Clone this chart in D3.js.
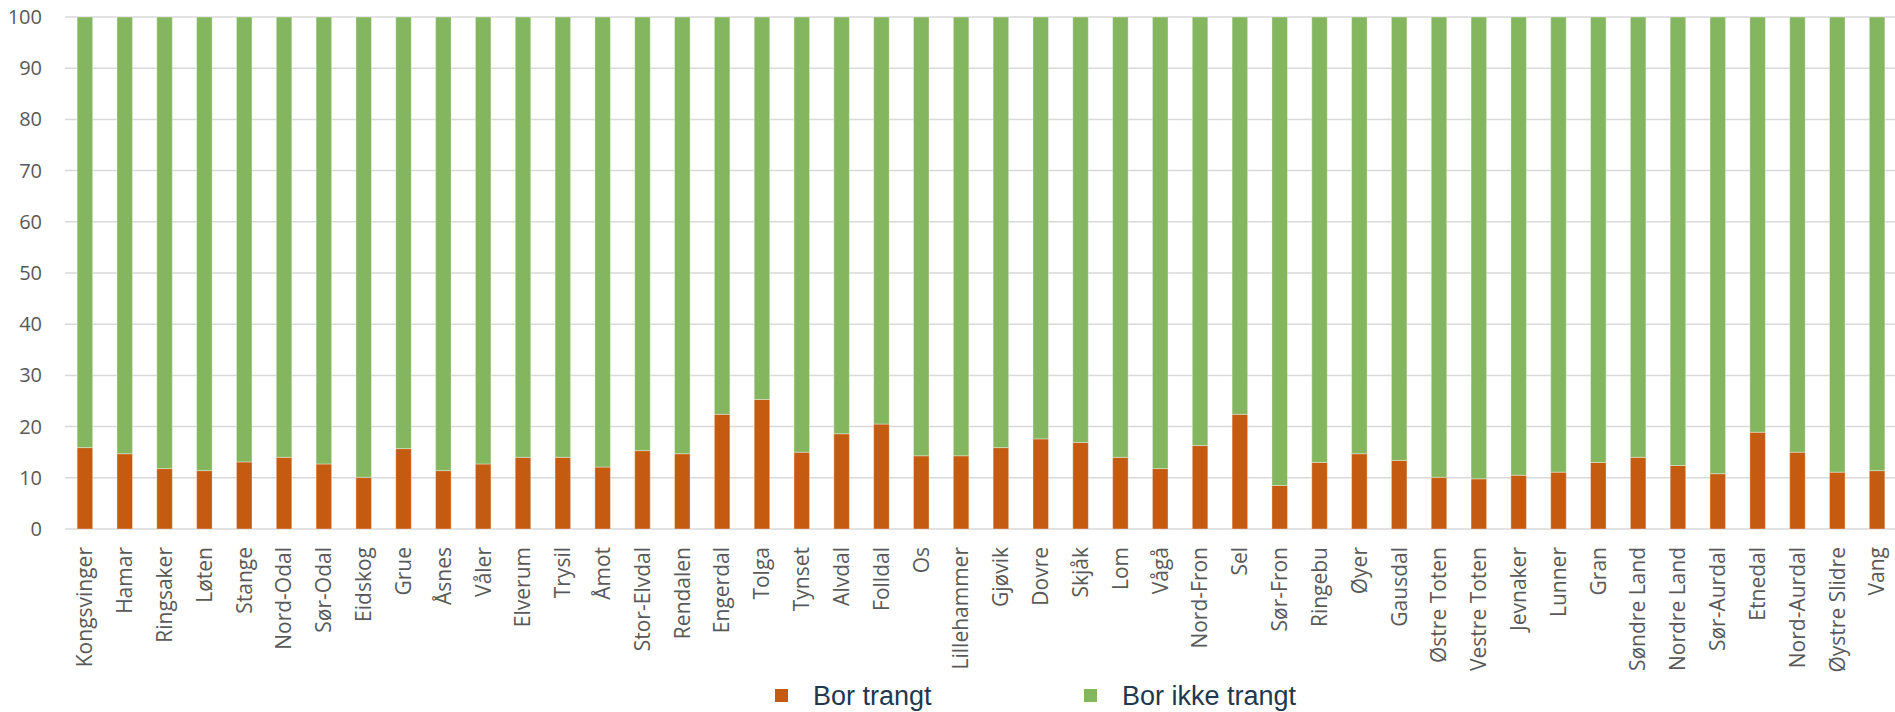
<!DOCTYPE html>
<html>
<head>
<meta charset="utf-8">
<script src="https://cdn.jsdelivr.net/npm/d3@7"></script>
<style>
  body { margin: 0; background: #fff; }
</style>
</head>
<body>
<div class="chart"></div>
<script>
  // Data
  let kommuner = ["Kongsvinger", "Hamar", "Ringsaker", "Løten", "Stange", "Nord-Odal", "Sør-Odal", "Eidskog",
    "Grue", "Åsnes", "Våler", "Elverum", "Trysil", "Åmot", "Stor-Elvdal", "Rendalen", "Engerdal", "Tolga",
    "Tynset", "Alvdal", "Folldal", "Os", "Lillehammer", "Gjøvik", "Dovre", "Skjåk", "Lom", "Vågå",
    "Nord-Fron", "Sel", "Sør-Fron", "Ringebu", "Øyer", "Gausdal", "Østre Toten", "Vestre Toten",
    "Jevnaker", "Lunner", "Gran", "Søndre Land", "Nordre Land", "Sør-Aurdal", "Etnedal", "Nord-Aurdal",
    "Øystre Slidre", "Vang"];
  let borTrangt = [15.9, 14.7, 11.8, 11.4, 13.1, 14.0, 12.7, 10.1,
    15.7, 11.4, 12.7, 14.0, 14.0, 12.1, 15.3, 14.7, 22.4, 25.3,
    15.0, 18.6, 20.5, 14.3, 14.3, 15.9, 17.6, 16.9, 14.0, 11.8,
    16.3, 22.4, 8.5, 13.0, 14.7, 13.4, 10.1, 9.8,
    10.5, 11.1, 13.0, 14.0, 12.4, 10.8, 18.9, 15.0,
    11.1, 11.4];
  let borIkkeTrangt = borTrangt.map(v => 100 - v);
  let yTicks = [0, 10, 20, 30, 40, 50, 60, 70, 80, 90, 100];
  let seriesNames = ["Bor trangt", "Bor ikke trangt"];

  let width = 1895, height = 712;
  let m_left = 65, m_right = 1897, m_top = 17, m_bottom = 529;
  let colors = ["#c55a11", "#84b660"];

  let svg = d3.select("div.chart").append("svg")
      .attr("width", width)
      .attr("height", height)
      .style("font-family", "'Open Sans', sans-serif");

  let x = d3.scaleBand()
      .domain(kommuner)
      .range([m_left, m_right])
      .paddingInner(0.61)
      .paddingOuter(0.305);

  let y = d3.scaleLinear()
      .domain([0, 100])
      .range([m_bottom, m_top]);

  // Gridlines
  svg.append("g")
    .selectAll("line")
    .data(yTicks)
    .enter().append("line")
      .attr("x1", m_left)
      .attr("x2", width)
      .attr("y1", d => y(d))
      .attr("y2", d => y(d))
      .attr("stroke", "#d9d9d9")
      .attr("stroke-width", 1.5);

  // Y axis labels
  let yAxis = svg.append("g")
      .attr("transform", "translate(" + (m_left - 23) + ",0)")
      .call(d3.axisLeft(y).tickValues(yTicks).tickSize(0).tickPadding(0));
  yAxis.select(".domain").remove();
  yAxis.selectAll("text")
      .style("font-family", "'Open Sans', sans-serif")
      .style("font-size", "20px")
      .attr("fill", "#595959");

  // Stacked bars
  let rows = kommuner.map((k, i) => ({ kommune: k, a: borTrangt[i], b: borIkkeTrangt[i] }));
  let stack = d3.stack().keys(["a", "b"])(rows);

  svg.append("g")
    .selectAll("g")
    .data(stack)
    .enter().append("g")
      .attr("fill", (d, i) => colors[i])
    .selectAll("rect")
    .data(d => d)
    .enter().append("rect")
      .attr("x", d => x(d.data.kommune))
      .attr("width", x.bandwidth())
      .attr("y", d => y(d[1]))
      .attr("height", d => y(d[0]) - y(d[1]))
      .attr("stroke", "#ffffff")
      .attr("stroke-opacity", 0.35)
      .attr("stroke-width", 1);

  // X axis labels
  let xAxis = svg.append("g")
      .attr("transform", "translate(0," + m_bottom + ")")
      .call(d3.axisBottom(x).tickSize(0).tickPadding(0));
  xAxis.select(".domain").remove();
  xAxis.selectAll("text")
      .style("font-family", "'Open Sans', sans-serif")
      .style("font-size", "21px")
      .attr("fill", "#595959")
      .attr("text-anchor", "end")
      .attr("y", 0)
      .attr("dy", "0.35em")
      .attr("transform", "translate(0,18) rotate(-90)");

  // Legend
  let legendX = [775, 1084];
  let legend = svg.append("g")
    .selectAll("g")
    .data(seriesNames)
    .enter().append("g")
      .attr("transform", (d, i) => "translate(" + legendX[i] + ",0)");
  legend.append("rect")
      .attr("x", 0)
      .attr("y", 689)
      .attr("width", 13)
      .attr("height", 13)
      .attr("fill", (d, i) => colors[i]);
  legend.append("text")
      .attr("x", 38)
      .attr("y", 705)
      .text(d => d)
      .style("font-family", "'Liberation Sans', Arial, sans-serif")
      .style("font-size", "27px")
      .attr("fill", "#21384f");
</script>
</body>
</html>
